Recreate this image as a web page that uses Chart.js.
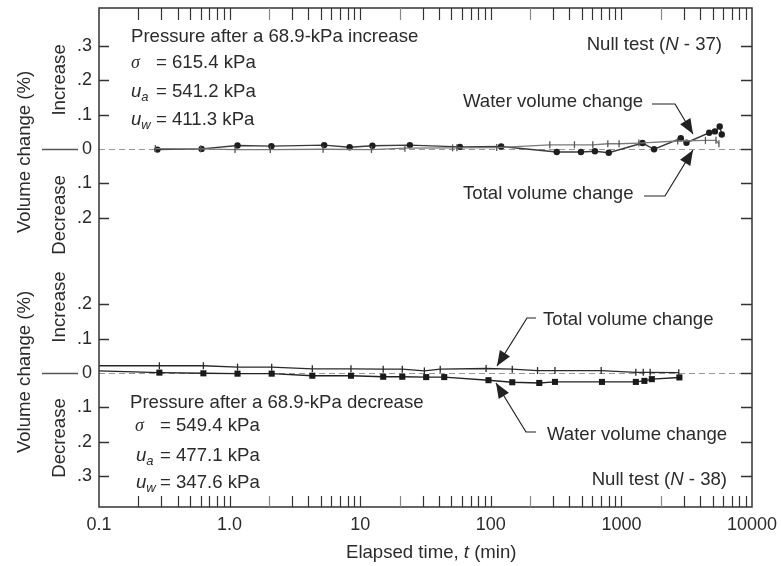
<!DOCTYPE html>
<html>
<head>
<meta charset="utf-8">
<script src="https://cdn.jsdelivr.net/npm/chart.js@4.4.1/dist/chart.umd.min.js"></script>
<style>
  html, body { margin: 0; padding: 0; background: #fff; }
</style>
</head>
<body>
<canvas id="chart" width="781" height="566"></canvas>
<script>
// elapsed time (min) and volume change (%)
// upper plot: null test N-37 (after increase)
const topWaterT = [0.28, 0.61, 1.15, 2.09, 5.3, 8.3, 12.4, 24, 58, 120, 320, 490, 627, 800, 1450, 1780, 2850, 3150, 4700, 5200, 5660, 5870];
const topWaterV = [-0.002, 0.0, 0.01, 0.008, 0.011, 0.005, 0.009, 0.011, 0.006, 0.007, -0.009, -0.009, -0.007, -0.011, 0.017, -0.001, 0.031, 0.018, 0.047, 0.051, 0.065, 0.042];
const topTotalT = [0.27, 0.6, 1.1, 2.05, 5.2, 12.2, 22, 51, 55, 111, 283, 437, 604, 787, 960, 1360, 2700, 4400, 5300, 5580];
const topTotalV = [0.001, 0.0, -0.002, -0.002, -0.001, -0.002, 0.002, 0.003, 0.003, 0.004, 0.012, 0.012, 0.012, 0.015, 0.015, 0.017, 0.023, 0.025, 0.025, 0.015];

// lower plot: null test N-38 (after decrease)
const botWaterT = [0.1, 0.29, 0.63, 1.15, 2.1, 4.3, 8.5, 15, 21, 32, 44, 96, 146, 235, 310, 710, 1290, 1500, 1710, 2780];
const botWaterV = [0.006, 0.001, -0.001, -0.002, -0.002, -0.008, -0.008, -0.011, -0.011, -0.012, -0.012, -0.021, -0.027, -0.029, -0.026, -0.026, -0.026, -0.023, -0.018, -0.013];
const botTotalT = [0.1, 0.29, 0.63, 1.15, 2.1, 4.3, 8.5, 15, 21, 31, 41, 92, 146, 228, 310, 700, 1290, 1470, 1660, 2750];
const botTotalV = [0.021, 0.021, 0.021, 0.017, 0.017, 0.012, 0.012, 0.011, 0.011, 0.006, 0.011, 0.013, 0.011, 0.007, 0.007, 0.007, 0.002, 0.002, 0.002, 0.001];

// axes
const decades = [0.1, 1, 10, 100, 1000, 10000];
const xTickLabels = ['0.1', '1.0', '10', '100', '1000', '10000'];
const topYTicks = [-0.2, -0.1, 0, 0.1, 0.2, 0.3];
const botYTicks = [-0.3, -0.2, -0.1, 0, 0.1, 0.2];

const FAM = '"Liberation Sans", Arial, sans-serif';
const INK = '#2b2b2b';

function pts(ts, vs) {
  return ts.map((t, i) => ({ x: t, y: vs[i] }));
}

// log ticks 1..9 in every decade
const xTicks = [];
decades.forEach((d, i) => {
  if (i === decades.length - 1) { xTicks.push(d); return; }
  for (let k = 1; k < 10; k++) xTicks.push(d * k);
});

function yLabel(v) {
  if (Math.abs(v) < 1e-9) return '0';
  return '.' + Math.round(Math.abs(v) * 10);
}

function drawRuns(ctx, x, y, parts) {
  for (const p of parts) {
    ctx.font = p.f;
    if (p.x !== undefined) x = p.x;
    ctx.fillText(p.t, x, y + (p.dy || 0));
    x += ctx.measureText(p.t).width;
  }
}

function arrow(ctx, path) {
  ctx.beginPath();
  ctx.moveTo(path[0][0], path[0][1]);
  for (let i = 1; i < path.length; i++) ctx.lineTo(path[i][0], path[i][1]);
  ctx.stroke();
  const [x1, y1] = path[path.length - 2];
  const [x2, y2] = path[path.length - 1];
  const a = Math.atan2(y2 - y1, x2 - x1);
  const L = 15, W = 6;
  const bx = x2 - L * Math.cos(a), by = y2 - L * Math.sin(a);
  ctx.beginPath();
  ctx.moveTo(x2, y2);
  ctx.lineTo(bx + W * Math.sin(a), by - W * Math.cos(a));
  ctx.lineTo(bx - W * Math.sin(a), by + W * Math.cos(a));
  ctx.closePath();
  ctx.fill();
}

const norm = '18.6px ' + FAM;
const ital = 'italic 18.6px ' + FAM;
const sub = 'italic 13px ' + FAM;
const greek = 'italic 18px "Liberation Serif", "DejaVu Serif", serif';

const decor = {
  id: 'decor',
  beforeDatasetsDraw(chart) {
    const ctx = chart.ctx, a = chart.chartArea;
    ctx.save();
    ctx.strokeStyle = '#999';
    ctx.lineWidth = 1.2;
    ctx.setLineDash([6, 4]);
    for (const s of [chart.scales.yTop, chart.scales.yBot]) {
      const py = Math.round(s.getPixelForValue(0)) + 0.5;
      ctx.beginPath();
      ctx.moveTo(a.left, py);
      ctx.lineTo(a.right, py);
      ctx.stroke();
    }
    ctx.restore();
  },
  afterDraw(chart) {
    const ctx = chart.ctx, a = chart.chartArea;
    const xs = chart.scales.x;
    ctx.save();
    ctx.strokeStyle = '#333';
    ctx.lineWidth = 1.5;
    ctx.strokeRect(a.left, a.top, a.right - a.left, a.bottom - a.top);

    // x ticks, inside, top and bottom
    ctx.lineWidth = 1.2;
    for (const t of xs.ticks) {
      const px = Math.round(xs.getPixelForValue(t.value)) + 0.5;
      if (px < a.left + 2 || px > a.right - 2) continue;
      ctx.strokeStyle = String(t.value).charAt(0) === '2' ? '#888' : '#333';
      ctx.beginPath();
      ctx.moveTo(px, a.bottom); ctx.lineTo(px, a.bottom - 11);
      ctx.moveTo(px, a.top); ctx.lineTo(px, a.top + 12);
      ctx.stroke();
    }

    // y ticks, inside, left and right
    ctx.strokeStyle = '#333';
    ctx.lineWidth = 1.5;
    for (const s of [chart.scales.yTop, chart.scales.yBot]) {
      for (const t of s.ticks) {
        const py = Math.round(s.getPixelForValue(t.value)) + 0.5;
        ctx.beginPath();
        if (t.value !== 0) { ctx.moveTo(a.left, py); ctx.lineTo(a.left + 10, py); }
        ctx.moveTo(a.right - 11, py); ctx.lineTo(a.right, py);
        ctx.stroke();
      }
      const pz = Math.round(s.getPixelForValue(0)) + 0.5;
      ctx.strokeStyle = '#555';
      ctx.beginPath(); ctx.moveTo(42, pz); ctx.lineTo(78, pz); ctx.stroke();
      ctx.strokeStyle = '#333';
    }

    // rotated axis words
    ctx.fillStyle = INK;
    ctx.font = norm;
    ctx.textAlign = 'center';
    ctx.textBaseline = 'middle';
    const rot = (txt, x, y) => {
      ctx.save(); ctx.translate(x, y); ctx.rotate(-Math.PI / 2);
      ctx.fillText(txt, 0, 0); ctx.restore();
    };
    const zt = chart.scales.yTop.getPixelForValue(0);
    const zb = chart.scales.yBot.getPixelForValue(0);
    rot('Volume change (%)', 25, zt + 3);
    rot('Increase', 60, zt - 69);
    rot('Decrease', 60, zt + 66);
    rot('Volume change (%)', 25, zb - 1);
    rot('Increase', 60, zb - 66);
    rot('Decrease', 60, zb + 65);

    // x title
    ctx.textAlign = 'left';
    drawRuns(ctx, 346, 553, [
      { t: 'Elapsed time, ', f: norm },
      { t: 't', f: ital },
      { t: ' (min)', f: norm }
    ]);

    // upper notes
    drawRuns(ctx, 131, 37, [{ t: 'Pressure after a 68.9-kPa increase', f: norm }]);
    drawRuns(ctx, 131, 63, [{ t: '\u03c3', f: greek }, { t: '= 615.4 kPa', f: norm, x: 156 }]);
    drawRuns(ctx, 131, 92, [{ t: 'u', f: ital }, { t: 'a', f: sub, dy: 5 }, { t: '= 541.2 kPa', f: norm, x: 156 }]);
    drawRuns(ctx, 131, 120, [{ t: 'u', f: ital }, { t: 'w', f: sub, dy: 5 }, { t: '= 411.3 kPa', f: norm, x: 156 }]);

    // lower notes
    drawRuns(ctx, 130, 403, [{ t: 'Pressure after a 68.9-kPa decrease', f: norm }]);
    drawRuns(ctx, 135, 426, [{ t: '\u03c3', f: greek }, { t: '= 549.4 kPa', f: norm, x: 160 }]);
    drawRuns(ctx, 136, 456, [{ t: 'u', f: ital }, { t: 'a', f: sub, dy: 5 }, { t: '= 477.1 kPa', f: norm, x: 160 }]);
    drawRuns(ctx, 136, 483, [{ t: 'u', f: ital }, { t: 'w', f: sub, dy: 5 }, { t: '= 347.6 kPa', f: norm, x: 160 }]);

    // null test labels, right aligned
    const nullTest = (num, right, y) => {
      const parts = [{ t: 'Null test (', f: norm }, { t: 'N', f: ital }, { t: ' - ' + num + ')', f: norm }];
      let w = 0;
      for (const p of parts) { ctx.font = p.f; w += ctx.measureText(p.t).width; }
      drawRuns(ctx, right - w, y, parts);
    };
    nullTest(37, 722, 45);
    nullTest(38, 727, 480);

    // curve labels with leaders
    ctx.font = norm;
    ctx.fillText('Water volume change', 463, 102);
    ctx.fillText('Total volume change', 463, 194);
    ctx.fillText('Total volume change', 543, 320);
    ctx.fillText('Water volume change', 547, 435);

    ctx.strokeStyle = '#222';
    ctx.fillStyle = '#222';
    ctx.lineWidth = 1.2;
    arrow(ctx, [[652, 104], [675, 104], [693, 134]]);
    arrow(ctx, [[644, 196], [665, 196], [693, 150]]);
    arrow(ctx, [[536, 318], [527, 318], [497, 366]]);
    arrow(ctx, [[536, 432], [526, 432], [496, 383]]);
    ctx.restore();
  }
};

const yCommon = {
  type: 'linear',
  position: 'left',
  stack: 'panels',
  afterFit: s => { s.width = 99; s.paddingTop = 0; s.paddingBottom = 0; },
  grid: { display: false, drawTicks: false },
  border: { display: false },
  ticks: {
    padding: 7,
    color: INK,
    font: { family: FAM, size: 18 },
    callback: v => yLabel(v)
  }
};

new Chart(document.getElementById('chart'), {
  type: 'scatter',
  data: {
    datasets: [
      {
        label: 'Total volume change (N-37)',
        data: pts(topTotalT, topTotalV),
        yAxisID: 'yTop',
        showLine: true,
        borderColor: '#7a7a7a',
        borderWidth: 1.3,
        pointStyle: 'line',
        pointRotation: 90,
        pointRadius: 3.5,
        pointBorderWidth: 1.3,
        pointBorderColor: '#555',
        pointBackgroundColor: '#555'
      },
      {
        label: 'Water volume change (N-37)',
        data: pts(topWaterT, topWaterV),
        yAxisID: 'yTop',
        showLine: true,
        borderColor: '#3a3a3a',
        borderWidth: 1.4,
        pointStyle: 'circle',
        pointRadius: 3.2,
        pointBorderWidth: 0,
        pointBackgroundColor: '#1e1e1e'
      },
      {
        label: 'Total volume change (N-38)',
        data: pts(botTotalT, botTotalV),
        yAxisID: 'yBot',
        showLine: true,
        borderColor: '#2a2a2a',
        borderWidth: 1.3,
        pointStyle: 'line',
        pointRotation: 90,
        pointRadius: c => (c.dataIndex === 0 ? 0 : 3.5),
        pointBorderWidth: 1.3,
        pointBorderColor: '#2a2a2a',
        pointBackgroundColor: '#2a2a2a'
      },
      {
        label: 'Water volume change (N-38)',
        data: pts(botWaterT, botWaterV),
        yAxisID: 'yBot',
        showLine: true,
        borderColor: '#222',
        borderWidth: 1.4,
        pointStyle: 'rect',
        pointRadius: c => (c.dataIndex === 0 ? 0 : 4.3),
        pointBorderWidth: 0,
        pointBackgroundColor: '#1a1a1a'
      }
    ]
  },
  options: {
    responsive: false,
    animation: false,
    layout: { padding: { left: 0, right: 29, top: 8, bottom: 0 } },
    plugins: { legend: { display: false }, tooltip: { enabled: false } },
    scales: {
      x: {
        type: 'logarithmic',
        position: 'bottom',
        min: 0.1,
        max: 10000,
        afterBuildTicks: s => { s.ticks = xTicks.map(v => ({ value: v })); },
        afterFit: s => { s.height = 59; s.paddingLeft = 0; s.paddingRight = 0; },
        grid: { display: false, drawTicks: false },
        border: { display: false },
        ticks: {
          autoSkip: false,
          maxRotation: 0,
          padding: 7,
          color: INK,
          font: { family: FAM, size: 18 },
          callback: v => {
            const i = decades.findIndex(d => Math.abs(d - v) / d < 1e-6);
            return i < 0 ? '' : xTickLabels[i];
          }
        }
      },
      yBot: Object.assign({}, yCommon, {
        min: -0.39, max: 0.326, stackWeight: 0.716,
        afterBuildTicks: s => { s.ticks = botYTicks.map(v => ({ value: v })); }
      }),
      yTop: Object.assign({}, yCommon, {
        min: -0.326, max: 0.41, stackWeight: 0.736,
        afterBuildTicks: s => { s.ticks = topYTicks.map(v => ({ value: v })); }
      })
    }
  },
  plugins: [decor]
});
</script>
</body>
</html>
